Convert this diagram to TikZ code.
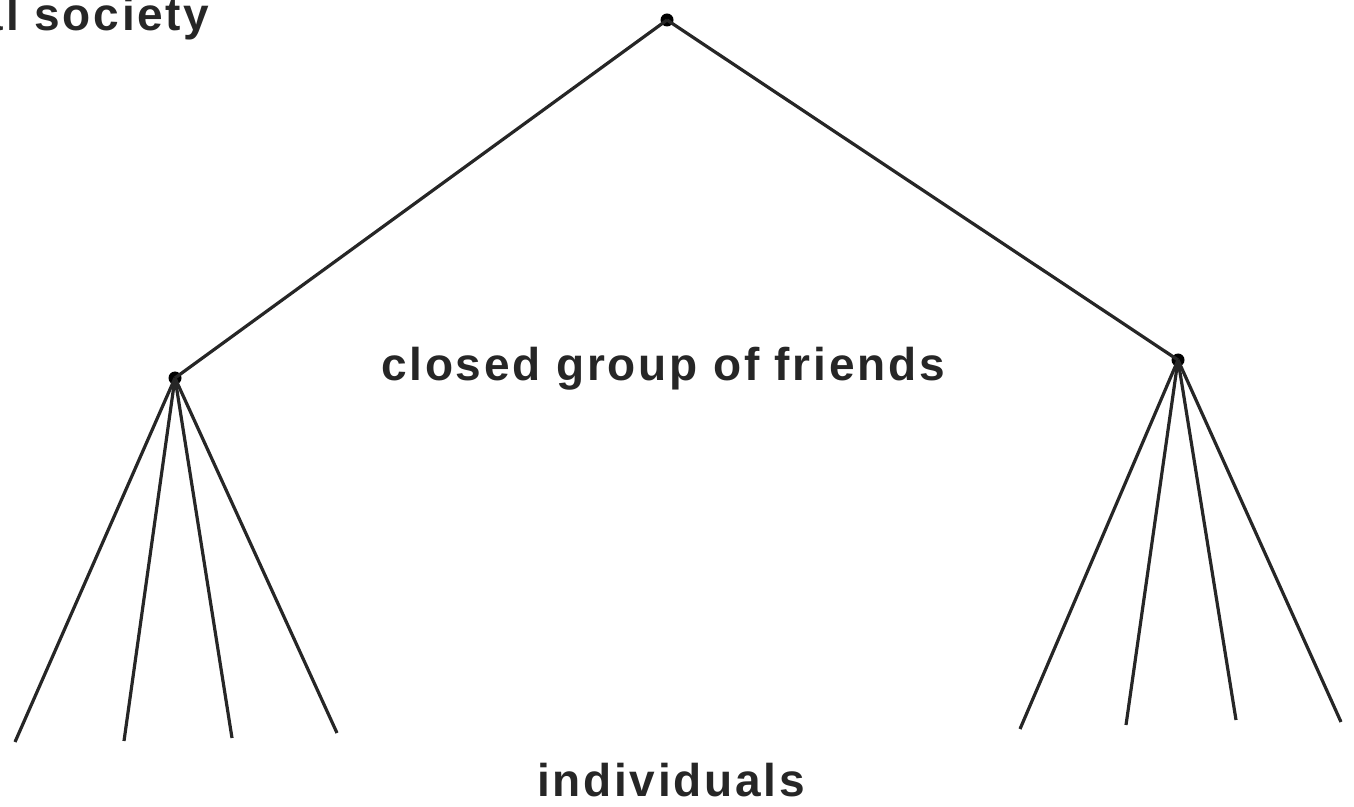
\documentclass[tikz,border=0pt]{standalone}
\usepackage{fontspec}
\setmainfont{Liberation Sans}[LetterSpace=6]
\begin{document}
\begin{tikzpicture}[x=0.5pt,y=-0.5pt,
  dot/.style={circle,fill=black,inner sep=0pt,minimum size=6.5pt},
  edge/.style={draw=black!85,line width=1.6pt},
  lbl/.style={font=\fontsize{23}{27}\selectfont\bfseries,text=black!85,inner sep=0pt}]
\useasboundingbox (0,0) rectangle (1354,807);
\node[dot] (top) at (667,20) {};
\node[dot] (L) at (175,378) {};
\node[dot] (R) at (1178,360) {};
\coordinate (l1) at (15,742);
\coordinate (l2) at (124,741);
\coordinate (l3) at (232,738);
\coordinate (l4) at (337,733);
\coordinate (r1) at (1020,729);
\coordinate (r2) at (1126,725);
\coordinate (r3) at (1236,720);
\coordinate (r4) at (1341,722);
\draw[edge] (top.center) -- (L.center);
\draw[edge] (top.center) -- (R.center);
\foreach \i in {1,...,4} {
  \draw[edge] (L.center) -- (l\i);
  \draw[edge] (R.center) -- (r\i);
}
\node[lbl,anchor=base east] (soc) at (210,31) {al society};
\node[lbl,anchor=base] (grp) at (663,380) {closed group of friends};
\node[lbl,anchor=base] (ind) at (671,796) {individuals};
\end{tikzpicture}
\end{document}
